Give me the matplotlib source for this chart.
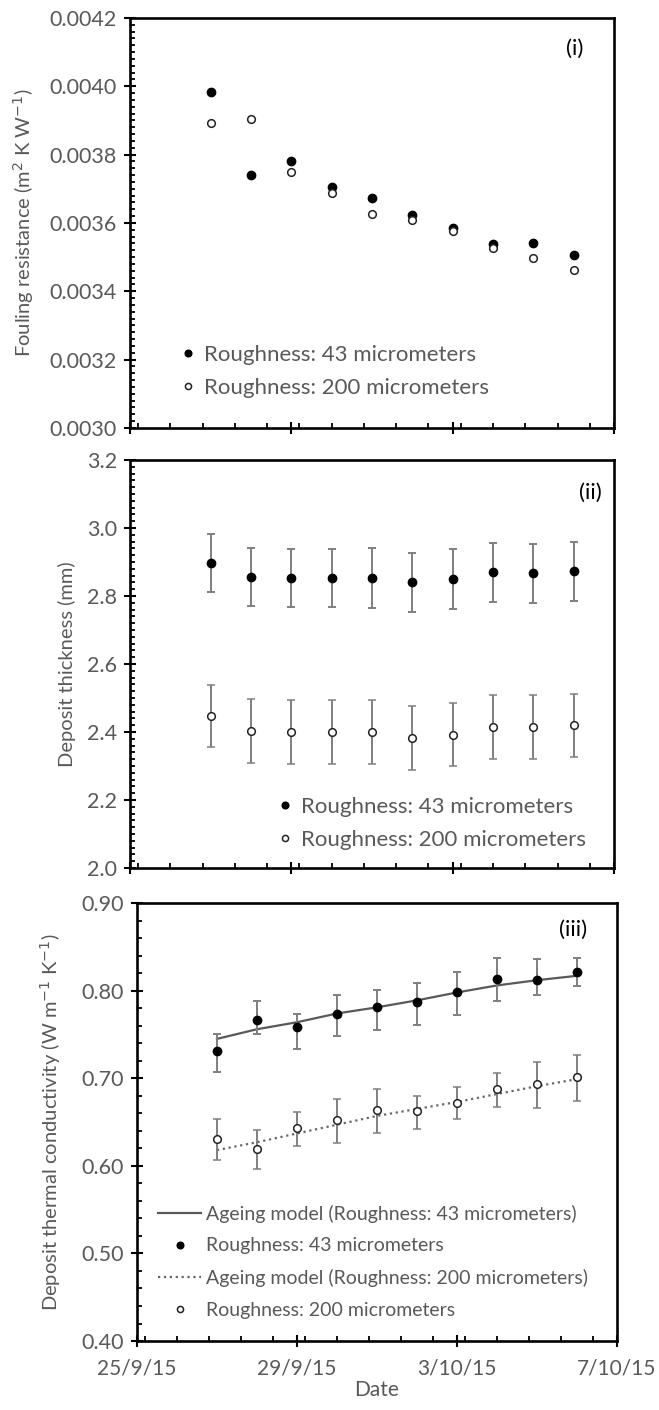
import datetime as dt
import matplotlib
matplotlib.use("Agg")
import matplotlib.pyplot as plt
import matplotlib.dates as mdates
from matplotlib.ticker import MultipleLocator, FuncFormatter
from matplotlib.lines import Line2D

plt.rcParams['font.family'] = ['Lato', 'DejaVu Sans']

# measurement dates (d/m/yy)
dates = ['27/9/15', '28/9/15', '29/9/15', '30/9/15', '1/10/15',
         '2/10/15', '3/10/15', '4/10/15', '5/10/15', '6/10/15']

# (i) fouling resistance, m2 K W-1
rf_43 = [0.003982, 0.003741, 0.003782, 0.003705, 0.003673,
         0.003623, 0.003585, 0.003539, 0.003541, 0.003507]
rf_200 = [0.003891, 0.003904, 0.003748, 0.003688, 0.003626,
          0.003610, 0.003576, 0.003527, 0.003498, 0.003463]

# (ii) deposit thickness, mm
th_43 = [2.897, 2.856, 2.853, 2.853, 2.853, 2.840, 2.850, 2.870, 2.867, 2.873]
th_43_err = [0.086, 0.086, 0.086, 0.086, 0.088, 0.087, 0.087, 0.087, 0.087, 0.087]
th_200 = [2.447, 2.402, 2.399, 2.399, 2.399, 2.382, 2.392, 2.416, 2.414, 2.420]
th_200_err = [0.091, 0.094, 0.094, 0.094, 0.094, 0.094, 0.093, 0.094, 0.094, 0.093]

# (iii) deposit thermal conductivity, W m-1 K-1
k_43 = [0.731, 0.766, 0.758, 0.773, 0.781, 0.787, 0.798, 0.813, 0.812, 0.821]
k_43_up = [0.020, 0.022, 0.015, 0.022, 0.020, 0.022, 0.023, 0.024, 0.024, 0.016]
k_43_dn = [0.024, 0.016, 0.024, 0.025, 0.026, 0.026, 0.026, 0.025, 0.017, 0.016]
k_200 = [0.631, 0.619, 0.643, 0.652, 0.664, 0.663, 0.672, 0.688, 0.693, 0.702]
k_200_up = [0.022, 0.022, 0.018, 0.024, 0.024, 0.017, 0.018, 0.018, 0.026, 0.025]
k_200_dn = [0.024, 0.023, 0.020, 0.026, 0.027, 0.021, 0.019, 0.021, 0.027, 0.028]
model_43 = [0.745, 0.756, 0.764, 0.774, 0.781, 0.789, 0.798, 0.806, 0.812, 0.817]
model_200 = [0.618, 0.627, 0.637, 0.647, 0.657, 0.665, 0.673, 0.682, 0.691, 0.699]

x_start = '25/9/15'
x_end = '7/10/15'

GREY_TXT = '#595959'
GREY_BAR = '#7f7f7f'


def parse(d):
    return dt.datetime.strptime(d, '%d/%m/%y')


xs = [parse(d) for d in dates]


def fmt_date(v, pos):
    d = mdates.num2date(v)
    return f"{d.day}/{d.month}/{d.strftime('%y')}"


def style_axes(ax, ymin, ymax, ymaj, ymin_step, yfmt, show_x):
    ax.set_xlim(parse(x_start), parse(x_end))
    ax.set_ylim(ymin, ymax)
    ax.xaxis.set_major_locator(mdates.DayLocator(bymonthday=[25, 29, 3, 7]))
    ax.xaxis.set_minor_locator(MultipleLocator(0.8))
    ax.yaxis.set_major_locator(MultipleLocator(ymaj))
    ax.yaxis.set_minor_locator(MultipleLocator(ymin_step))
    ax.yaxis.set_major_formatter(FuncFormatter(lambda v, p: format(v, yfmt)))
    if show_x:
        ax.xaxis.set_major_formatter(FuncFormatter(fmt_date))
    else:
        ax.xaxis.set_major_formatter(FuncFormatter(lambda v, p: ''))
    for s in ax.spines.values():
        s.set_linewidth(1.9)
    ax.tick_params(which='major', direction='inout', length=9, width=1.5,
                   labelsize=15.5, labelcolor=GREY_TXT)
    ax.tick_params(which='minor', direction='in', length=3.5, width=1.3)
    ax.tick_params(axis='y', which='major', pad=5)
    ax.tick_params(axis='x', which='major', pad=8, labelsize=15)


fig = plt.figure(figsize=(6.59, 14.10), dpi=100)
ax1 = fig.add_axes([0.1973, 0.6965, 0.7344, 0.2908])
ax2 = fig.add_axes([0.1973, 0.3844, 0.7344, 0.2894])
ax3 = fig.add_axes([0.2079, 0.0489, 0.7284, 0.3106])

mk_full = dict(marker='o', color='black', ms=6)
mk_open = dict(marker='o', mfc='white', mec='#222222', mew=1.1, ms=5.5)
bar_kw = dict(ecolor=GREY_BAR, elinewidth=1.4, capsize=3, capthick=1.4)

# panel (i)
ax1.plot(xs, rf_43, ls='', **mk_full)
ax1.plot(xs, rf_200, ls='', **mk_open)
style_axes(ax1, 0.0030, 0.0042, 0.0002, 0.00002, '.4f', False)
ax1.set_ylabel('Fouling resistance (m$^2$ K W$^{-1}$)', fontsize=14.5, color=GREY_TXT)
ax1.yaxis.set_label_coords(-0.194, 0.5)
ax1.text(0.936, 0.925, '(i)', transform=ax1.transAxes, fontsize=16, ha='right', va='center')

# panel (ii)
ax2.errorbar(xs, th_43, yerr=th_43_err, ls='', **mk_full, **bar_kw)
ax2.errorbar(xs, th_200, yerr=th_200_err, ls='', **mk_open, **bar_kw)
style_axes(ax2, 2.0, 3.2, 0.2, 0.02, '.1f', False)
ax2.set_ylabel('Deposit thickness (mm)', fontsize=14.5, color=GREY_TXT)
ax2.yaxis.set_label_coords(-0.112, 0.5)
ax2.text(0.975, 0.919, '(ii)', transform=ax2.transAxes, fontsize=16, ha='right', va='center')

# panel (iii)
ax3.plot(xs, model_43, '-', color=GREY_TXT, lw=1.6)
ax3.plot(xs, model_200, ':', color='#666666', lw=1.6)
ax3.errorbar(xs, k_43, yerr=[k_43_dn, k_43_up], ls='', **mk_full, **bar_kw)
ax3.errorbar(xs, k_200, yerr=[k_200_dn, k_200_up], ls='', **mk_open, **bar_kw)
style_axes(ax3, 0.40, 0.90, 0.10, 0.02, '.2f', True)
ax3.set_ylabel('Deposit thermal conductivity (W m$^{-1}$ K$^{-1}$)', fontsize=14.5,
               color=GREY_TXT)
ax3.yaxis.set_label_coords(-0.154, 0.5)
ax3.set_xlabel('Date', fontsize=15, color=GREY_TXT, labelpad=1)
ax3.text(0.9375, 0.938, '(iii)', transform=ax3.transAxes, fontsize=16, ha='right',
         va='center')

# legends
rough = ['Roughness: 43 micrometers', 'Roughness: 200 micrometers']
h_pts = [Line2D([], [], ls='', **mk_full), Line2D([], [], ls='', **mk_open)]
leg_kw = dict(loc='center left', frameon=False, borderpad=0, borderaxespad=0,
              labelcolor=GREY_TXT, markerscale=0.8)
ax1.legend(h_pts, rough, bbox_to_anchor=(0.10, 0.138), fontsize=16,
           handlelength=0.9, handletextpad=0.25, labelspacing=0.6, **leg_kw)
ax2.legend(h_pts, rough, bbox_to_anchor=(0.30, 0.109), fontsize=16,
           handlelength=0.9, handletextpad=0.25, labelspacing=0.6, **leg_kw)
h3 = [Line2D([], [], ls='-', color=GREY_TXT, lw=1.6), h_pts[0],
      Line2D([], [], ls=':', color='#666666', lw=1.6), h_pts[1]]
ax3.legend(h3, ['Ageing model (Roughness: 43 micrometers)', rough[0],
                'Ageing model (Roughness: 200 micrometers)', rough[1]],
           bbox_to_anchor=(0.044, 0.181), fontsize=14,
           handlelength=2.2, handletextpad=0.25, labelspacing=0.75, **leg_kw)

fig.savefig('out.png', dpi=100)
